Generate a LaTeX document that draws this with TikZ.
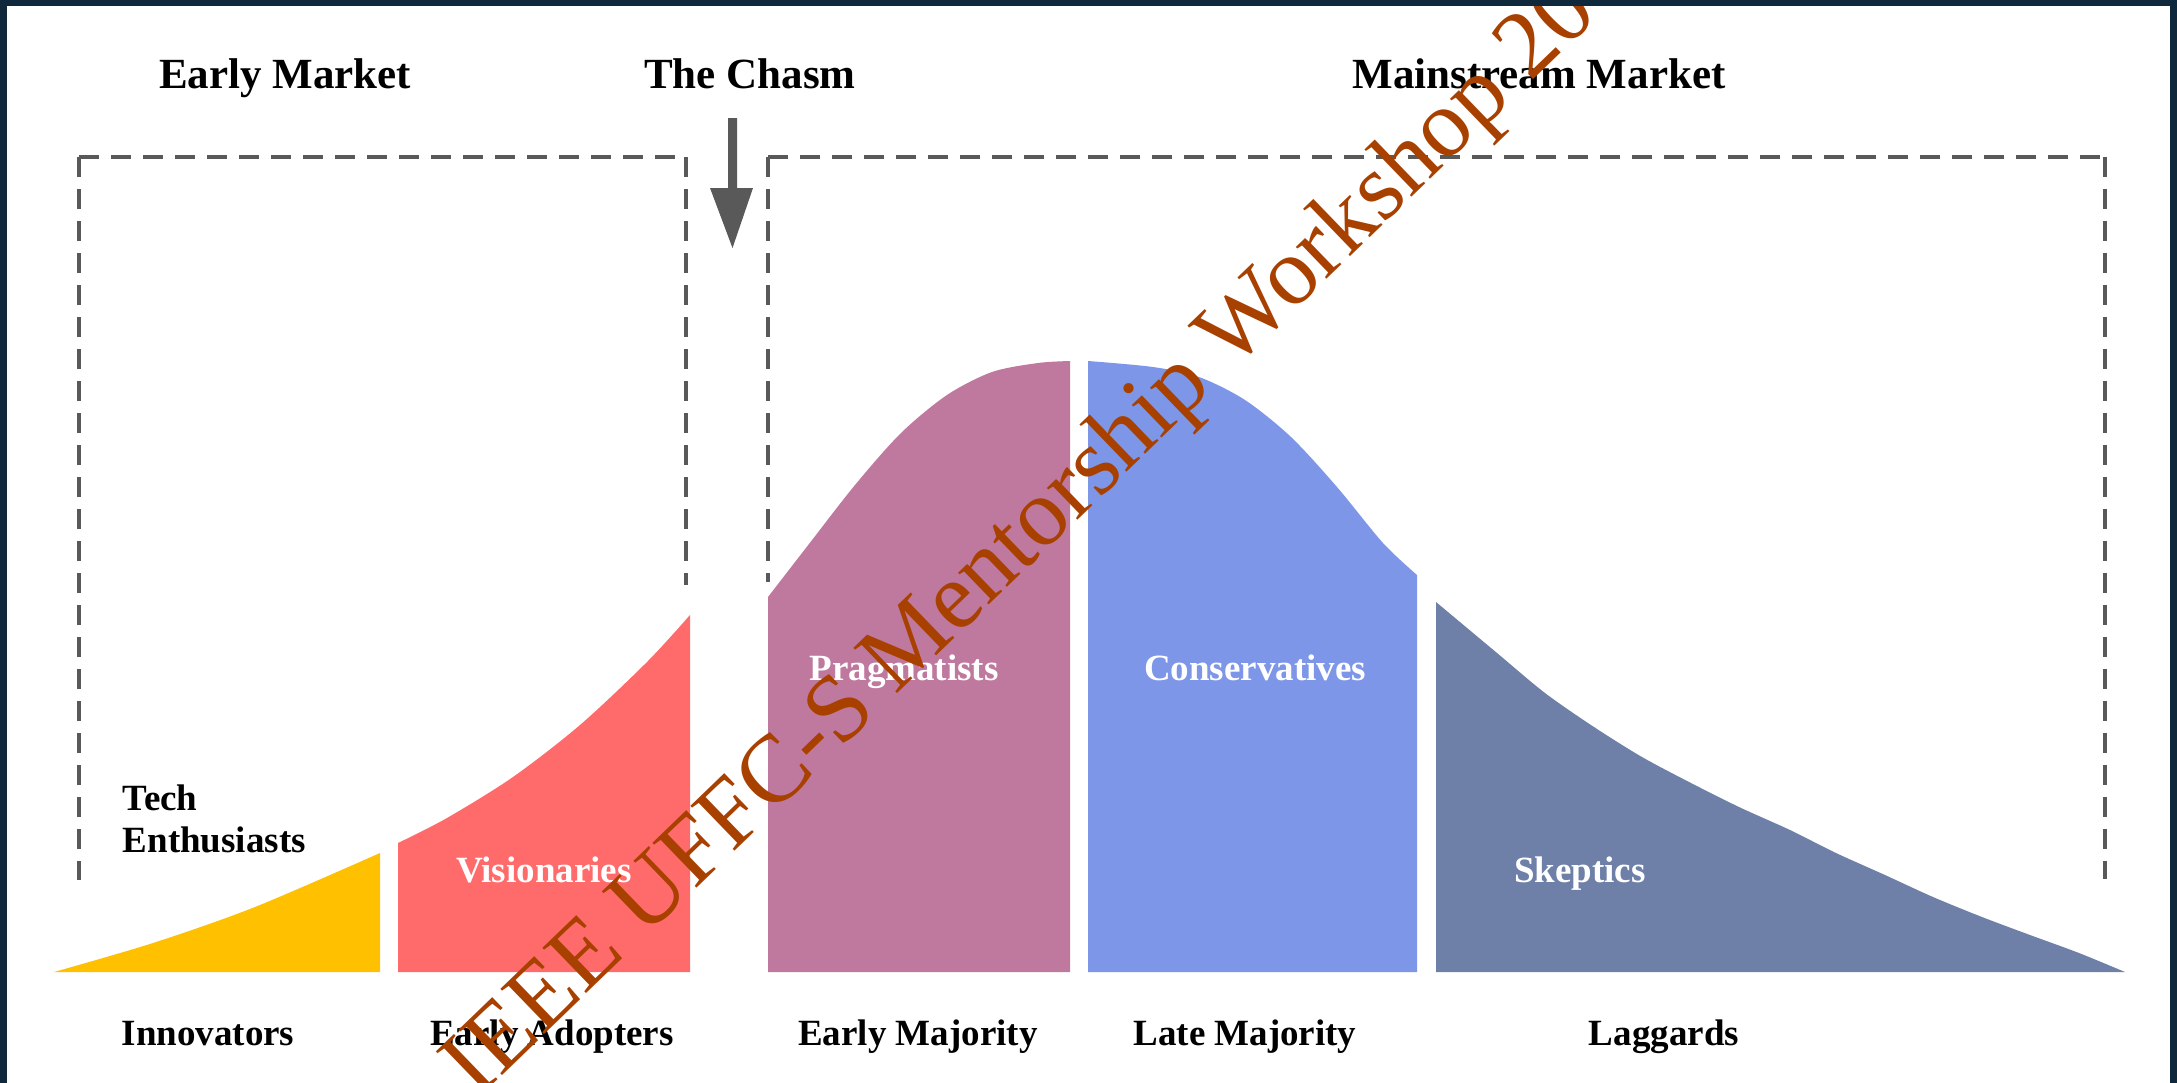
\documentclass[tikz,border=0pt]{standalone}
\usepackage{fontspec}
\setmainfont{Liberation Serif}
\definecolor{navy}{RGB}{15,40,60}
\definecolor{dashgray}{RGB}{89,89,89}
\definecolor{cyellow}{RGB}{255,192,0}
\definecolor{cred}{RGB}{255,107,107}
\definecolor{cpink}{RGB}{192,121,158}
\definecolor{cblue}{RGB}{125,150,232}
\definecolor{cslate}{RGB}{110,128,168}
\definecolor{wmcolor}{RGB}{168,64,0}
\tikzset{
  ttl/.style={font=\fontsize{10.75}{12}\selectfont\bfseries, inner sep=0pt, anchor=base},
  blbl/.style={font=\fontsize{9.25}{11}\selectfont\bfseries, inner sep=0pt, anchor=base},
  wlbl/.style={blbl, text=white},
  dashbox/.style={draw=dashgray, line width=1.2pt, dash pattern=on 5pt off 3pt},
  wmark/.style={font=\fontsize{24}{28}\selectfont, text=wmcolor, inner sep=0pt},
  band/.style={fill=navy}
}
\begin{document}
\begin{tikzpicture}[x=0.25pt,y=-0.25pt]
\useasboundingbox (0,0) rectangle (2177,1083);
\clip (0,0) rectangle (2177,1083);
\fill[white] (0,0) rectangle (2177,1083);

% dashed market boxes
\draw[dashbox] (79,157) -- (79,880);
\draw[dashbox] (79,157) -- (686,157);
\draw[dashbox] (686,157) -- (686,585);
\draw[dashbox] (768,157) -- (768,582);
\draw[dashbox] (768,157) -- (2105,157);
\draw[dashbox] (2105,157) -- (2105,879);

% chasm arrow
\fill[dashgray] (728,118) -- (737,118) -- (737,188) -- (753,188) -- (732.5,248) -- (710,188) -- (728,188) -- cycle;

% bell curve segments
\fill[cyellow] plot[smooth] coordinates {(54,972) (153,943) (255,907) (380,853)} -- (380,972) -- cycle;
\fill[cred] (398,972) -- plot[smooth] coordinates {(398,843) (447,818) (513,777) (580,725) (647,662) (690,615)} -- (690,972) -- cycle;
\fill[cpink] (768,972) -- plot[smooth] coordinates {(768,597) (809,544) (855,485) (901,433) (947,395) (992,372) (1038,363) (1070,361)} -- (1070,972) -- cycle;
\fill[cblue] (1088,972) -- plot[smooth] coordinates {(1088,361) (1153,367) (1199,377) (1245,400) (1291,437) (1337,487) (1383,543) (1417,575)} -- (1417,972) -- cycle;
\fill[cslate] (1436,972) -- plot[smooth] coordinates {(1436,602) (1497,653) (1545,693) (1594,727) (1642,757) (1691,783) (1739,807) (1790,830) (1836,853) (1885,875) (1933,897) (1982,917) (2030,935) (2079,953) (2125,972)} -- cycle;

% titles
\node[ttl] (early) at (285,88) {Early Market};
\node[ttl] (chasm) at (750,88) {The Chasm};
\node[ttl] (main) at (1539,88) {Mainstream Market};

% inner labels
\node[blbl, anchor=base west] (tech) at (122,810) {Tech};
\node[blbl, anchor=base west] (enth) at (122,852) {Enthusiasts};
\node[wlbl] (vis) at (544,882) {Visionaries};
\node[wlbl] (prag) at (904,680) {Pragmatists};
\node[wlbl] (cons) at (1255,680) {Conservatives};
\node[wlbl] (skep) at (1580,882) {Skeptics};

% bottom labels
\node[blbl] (inno) at (208,1045) {Innovators};
\node[blbl] (adopt) at (552,1045) {Early Adopters};
\node[blbl] (emaj) at (918,1045) {Early Majority};
\node[blbl] (lmaj) at (1245,1045) {Late Majority};
\node[blbl] (lag) at (1664,1045) {Laggards};

% watermark
\node[wmark, rotate=44, anchor=base west] (wm) at (477,1100) {IEEE UFFC-S Mentorship Workshop 20};

% frame
\fill[band] (0,0) rectangle (2177,6);
\fill[band] (0,0) rectangle (7,1083);
\fill[band] (2170,0) rectangle (2177,1083);
\end{tikzpicture}
\end{document}
